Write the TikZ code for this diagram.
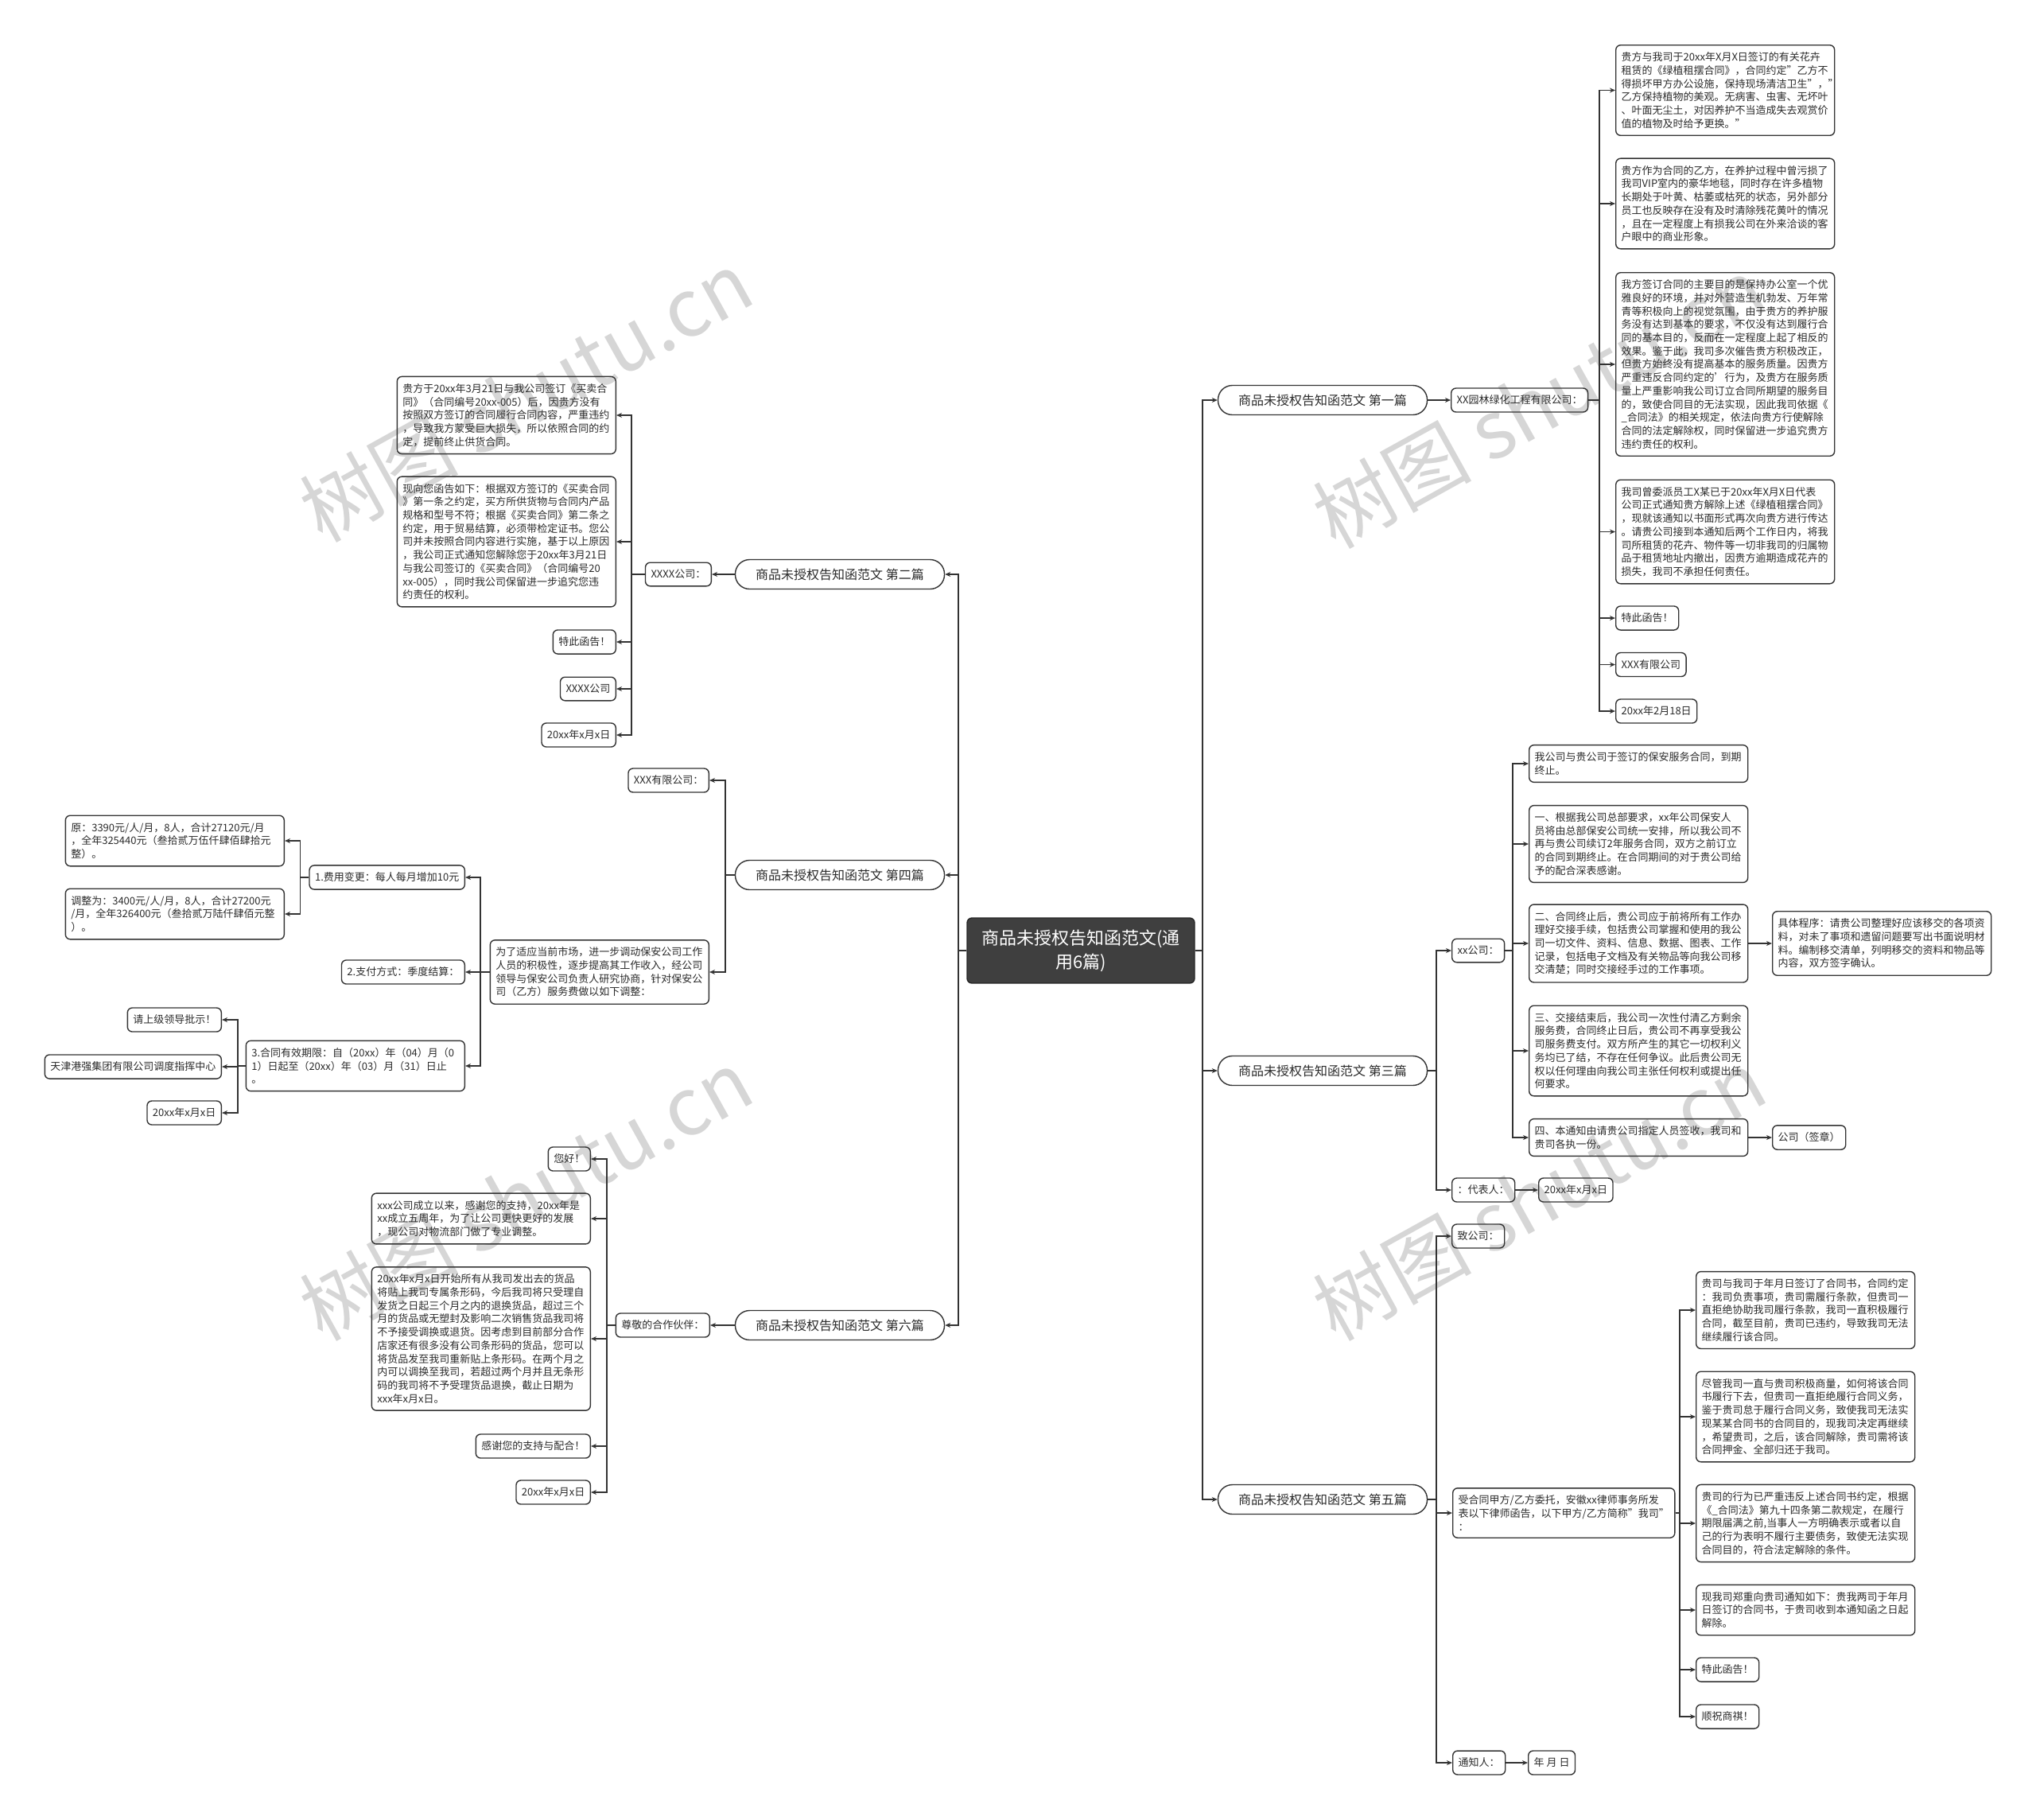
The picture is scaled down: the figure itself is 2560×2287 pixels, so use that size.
\documentclass[tikz,border=0pt]{standalone}
\usepackage{fontspec}
\setmainfont{Noto Sans CJK SC}
\usetikzlibrary{arrows.meta}
\definecolor{linec}{HTML}{333333}
\definecolor{textc}{HTML}{2B2B2B}
\definecolor{rootc}{HTML}{3F3F3F}
\definecolor{wmc}{HTML}{D6D6D6}
\begin{document}
\begin{tikzpicture}[x=1pt,y=-1pt,
  conn/.style={draw=linec, line width=1.4pt},
  arr/.style={conn, -{Stealth[length=7pt,width=6pt]}},
  tagbox/.style={draw=linec, line width=1.4pt, rounded corners=6pt, text=textc, align=left, inner xsep=7pt, inner ysep=9pt, font=\fontsize{13}{16.7}\selectfont},
  bigbox/.style={tagbox, text width=261pt},
  pillbox/.style={draw=linec, line width=1.4pt, rounded corners=18pt, minimum width=263pt, minimum height=37pt, inner sep=0pt, text=textc, font=\fontsize{16}{19}\selectfont},
  rootbox/.style={draw=black!85, fill=rootc, line width=1.4pt, rounded corners=6pt, minimum width=286pt, minimum height=82pt, text=white, align=center, font=\fontsize{22}{30}\selectfont},
  wm/.style={text=wmc, rotate=29, font=\fontsize{100}{100}\selectfont}
]
\useasboundingbox[fill=white] (0,0) rectangle (2560,2287);

% watermarks
\node[wm] (w1) at (661,498) {树图 shutu.cn};
\node[wm] (w2) at (661,1502) {树图 shutu.cn};
\node[wm] (w3) at (1935,506) {树图 shutu.cn};
\node[wm] (w4) at (1935,1502) {树图 shutu.cn};

% trunk coordinates
\coordinate (tR) at (1512,0);
\coordinate (tL) at (1205,0);
\coordinate (tA) at (2011,0);
\coordinate (tB) at (1806,0);
\coordinate (tC) at (1902,0);
\coordinate (tE) at (2112,0);
\coordinate (tF) at (794,0);
\coordinate (tG) at (912,0);
\coordinate (tH) at (604,0);
\coordinate (tI) at (377.5,0);
\coordinate (tJ) at (299,0);
\coordinate (tK) at (763,0);

% root and level 1
\node[rootbox] (root) at (1359,1195) {商品未授权告知函范文(通\\用6篇)};
\node[pillbox] (r1) at (1663,503) {商品未授权告知函范文 第一篇};
\node[pillbox] (r3) at (1663,1346) {商品未授权告知函范文 第三篇};
\node[pillbox] (r5) at (1663,1885) {商品未授权告知函范文 第五篇};
\node[pillbox] (l2) at (1056,722) {商品未授权告知函范文 第二篇};
\node[pillbox] (l4) at (1056,1100) {商品未授权告知函范文 第四篇};
\node[pillbox] (l6) at (1056,1666) {商品未授权告知函范文 第六篇};
\foreach \n in {r1,r3,r5} \draw[arr] (root.east) -- (root.east -| tR) |- (\n.west);
\foreach \n in {l2,l4,l6} \draw[arr] (root.west) -- (root.west -| tL) |- (\n.east);

% ===== 第一篇 =====
\node[tagbox, anchor=west] (a0) at (1824,503) {XX园林绿化工程有限公司：};
\draw[arr] (r1.east) -- (a0.west);
\node[bigbox, anchor=west] (a1) at (2031,113.5) {贵方与我司于20xx年X月X日签订的有关花卉\\租赁的《绿植租摆合同》，合同约定"乙方不\\得损坏甲方办公设施，保持现场清洁卫生"，"\\乙方保持植物的美观。无病害、虫害、无坏叶\\、叶面无尘土，对因养护不当造成失去观赏价\\值的植物及时给予更换。"};
\node[bigbox, anchor=west] (a2) at (2031,256) {贵方作为合同的乙方，在养护过程中曾污损了\\我司VIP室内的豪华地毯，同时存在许多植物\\长期处于叶黄、枯萎或枯死的状态，另外部分\\员工也反映存在没有及时清除残花黄叶的情况\\，且在一定程度上有损我公司在外来洽谈的客\\户眼中的商业形象。};
\node[bigbox, anchor=west] (a3) at (2031,458) {我方签订合同的主要目的是保持办公室一个优\\雅良好的环境，并对外营造生机勃发、万年常\\青等积极向上的视觉氛围，由于贵方的养护服\\务没有达到基本的要求，不仅没有达到履行合\\同的基本目的，反而在一定程度上起了相反的\\效果。鉴于此，我司多次催告贵方积极改正，\\但贵方始终没有提高基本的服务质量。因贵方\\严重违反合同约定的'行为，及贵方在服务质\\量上严重影响我公司订立合同所期望的服务目\\的，致使合同目的无法实现，因此我司依据《\\\_合同法》的相关规定，依法向贵方行使解除\\合同的法定解除权，同时保留进一步追究贵方\\违约责任的权利。};
\node[bigbox, anchor=west] (a4) at (2031,668.5) {我司曾委派员工X某已于20xx年X月X日代表\\公司正式通知贵方解除上述《绿植租摆合同》\\，现就该通知以书面形式再次向贵方进行传达\\。请贵公司接到本通知后两个工作日内，将我\\司所租赁的花卉、物件等一切非我司的归属物\\品于租赁地址内撤出，因贵方逾期造成花卉的\\损失，我司不承担任何责任。};
\node[tagbox, anchor=west] (a5) at (2031,777) {特此函告！};
\node[tagbox, anchor=west] (a6) at (2031,835.5) {XXX有限公司};
\node[tagbox, anchor=west] (a7) at (2031,894) {20xx年2月18日};
\foreach \n in {a1,a2,a3,a4,a5,a6,a7} \draw[arr] (a0.east) -- (a0.east -| tA) |- (\n.west);

% ===== 第三篇 =====
\node[tagbox, anchor=west] (b1) at (1825,1195) {xx公司：};
\node[tagbox, anchor=west] (b2) at (1825,1496) {：代表人：};
\node[tagbox, anchor=west] (b3) at (1934,1496) {20xx年x月x日};
\foreach \n in {b1,b2} \draw[arr] (r3.east) -- (r3.east -| tB) |- (\n.west);
\draw[arr] (b2.east) -- (b3.west);
\node[bigbox, anchor=west] (c1) at (1922,960) {我公司与贵公司于签订的保安服务合同，到期\\终止。};
\node[bigbox, anchor=west] (c2) at (1922,1061) {一、根据我公司总部要求，xx年公司保安人\\员将由总部保安公司统一安排，所以我公司不\\再与贵公司续订2年服务合同，双方之前订立\\的合同到期终止。在合同期间的对于贵公司给\\予的配合深表感谢。};
\node[bigbox, anchor=west] (c3) at (1922,1186) {二、合同终止后，贵公司应于前将所有工作办\\理好交接手续，包括贵公司掌握和使用的我公\\司一切文件、资料、信息、数据、图表、工作\\记录，包括电子文档及有关物品等向我公司移\\交清楚；同时交接经手过的工作事项。};
\node[bigbox, anchor=west] (c4) at (1922,1321) {三、交接结束后，我公司一次性付清乙方剩余\\服务费，合同终止日后，贵公司不再享受我公\\司服务费支付。双方所产生的其它一切权利义\\务均已了结，不存在任何争议。此后贵公司无\\权以任何理由向我公司主张任何权利或提出任\\何要求。};
\node[bigbox, anchor=west] (c5) at (1922,1430) {四、本通知由请贵公司指定人员签收，我司和\\贵司各执一份。};
\node[bigbox, anchor=west] (c6) at (2228,1186) {具体程序：请贵公司整理好应该移交的各项资\\料，对未了事项和遗留问题要写出书面说明材\\料。编制移交清单，列明移交的资料和物品等\\内容，双方签字确认。};
\node[tagbox, anchor=west] (c7) at (2228,1430) {公司（签章）};
\foreach \n in {c1,c2,c3,c4,c5} \draw[arr] (b1.east) -- (b1.east -| tC) |- (\n.west);
\draw[arr] (c3.east) -- (c6.west);
\draw[arr] (c5.east) -- (c7.west);

% ===== 第五篇 =====
\node[tagbox, anchor=west] (d1) at (1825,1554) {致公司：};
\node[tagbox, anchor=west] (d2) at (1826,1902) {受合同甲方/乙方委托，安徽xx律师事务所发\\表以下律师函告，以下甲方/乙方简称"我司"\\：};
\node[tagbox, anchor=west] (d3) at (1826,2216) {通知人：};
\node[tagbox, anchor=west] (d4) at (1921,2216) {年 月 日};
\foreach \n in {d1,d2,d3} \draw[arr] (r5.east) -- (r5.east -| tB) |- (\n.west);
\draw[arr] (d3.east) -- (d4.west);
\node[bigbox, anchor=west] (e1) at (2132,1647) {贵司与我司于年月日签订了合同书，合同约定\\：我司负责事项，贵司需履行条款，但贵司一\\直拒绝协助我司履行条款，我司一直积极履行\\合同，截至目前，贵司已违约，导致我司无法\\继续履行该合同。};
\node[bigbox, anchor=west] (e2) at (2132,1781) {尽管我司一直与贵司积极商量，如何将该合同\\书履行下去，但贵司一直拒绝履行合同义务，\\鉴于贵司怠于履行合同义务，致使我司无法实\\现某某合同书的合同目的，现我司决定再继续\\，希望贵司，之后，该合同解除，贵司需将该\\合同押金、全部归还于我司。};
\node[bigbox, anchor=west] (e3) at (2132,1915) {贵司的行为已严重违反上述合同书约定，根据\\《\_合同法》第九十四条第二款规定，在履行\\期限届满之前,当事人一方明确表示或者以自\\己的行为表明不履行主要债务，致使无法实现\\合同目的，符合法定解除的条件。};
\node[bigbox, anchor=west] (e4) at (2132,2024) {现我司郑重向贵司通知如下：贵我两司于年月\\日签订的合同书，于贵司收到本通知函之日起\\解除。};
\node[tagbox, anchor=west] (e5) at (2132,2099) {特此函告！};
\node[tagbox, anchor=west] (e6) at (2132,2158) {顺祝商祺！};
\foreach \n in {e1,e2,e3,e4,e5,e6} \draw[arr] (d2.east) -- (d2.east -| tE) |- (\n.west);

% ===== 第二篇 =====
\node[tagbox, anchor=east] (f0) at (895,722) {XXXX公司：};
\draw[arr] (l2.west) -- (f0.east);
\node[bigbox, anchor=east] (f1) at (775,522) {贵方于20xx年3月21日与我公司签订《买卖合\\同》（合同编号20xx-005）后，因贵方没有\\按照双方签订的合同履行合同内容，严重违约\\，导致我方蒙受巨大损失，所以依照合同的约\\定，提前终止供货合同。};
\node[bigbox, anchor=east] (f2) at (775,681) {现向您函告如下：根据双方签订的《买卖合同\\》第一条之约定，买方所供货物与合同内产品\\规格和型号不符；根据《买卖合同》第二条之\\约定，用于贸易结算，必须带检定证书。您公\\司并未按照合同内容进行实施，基于以上原因\\，我公司正式通知您解除您于20xx年3月21日\\与我公司签订的《买卖合同》（合同编号20\\xx-005），同时我公司保留进一步追究您违\\约责任的权利。};
\node[tagbox, anchor=east] (f3) at (775,807) {特此函告！};
\node[tagbox, anchor=east] (f4) at (775,866) {XXXX公司};
\node[tagbox, anchor=east] (f5) at (775,924) {20xx年x月x日};
\foreach \n in {f1,f2,f3,f4,f5} \draw[arr] (f0.west) -- (f0.west -| tF) |- (\n.east);

% ===== 第四篇 =====
\node[tagbox, anchor=east] (g1) at (892,981) {XXX有限公司：};
\node[bigbox, anchor=east] (g2) at (892,1222) {为了适应当前市场，进一步调动保安公司工作\\人员的积极性，逐步提高其工作收入，经公司\\领导与保安公司负责人研究协商，针对保安公\\司（乙方）服务费做以如下调整：};
\foreach \n in {g1,g2} \draw[arr] (l4.west) -- (l4.west -| tG) |- (\n.east);
\node[tagbox, anchor=east] (h1) at (585,1103) {1.费用变更：每人每月增加10元};
\node[tagbox, anchor=east] (h2) at (585,1222) {2.支付方式：季度结算：};
\node[bigbox, anchor=east] (h3) at (585,1340) {3.合同有效期限：自（20xx）年（04）月（0\\1）日起至（20xx）年（03）月（31）日止\\。};
\foreach \n in {h1,h2,h3} \draw[arr] (g2.west) -- (g2.west -| tH) |- (\n.east);
\node[bigbox, anchor=east] (i1) at (358,1057) {原：3390元/人/月，8人，合计27120元/月\\，全年325440元（叁拾贰万伍仟肆佰肆拾元\\整）。};
\node[bigbox, anchor=east] (i2) at (358,1149) {调整为：3400元/人/月，8人，合计27200元\\/月，全年326400元（叁拾贰万陆仟肆佰元整\\）。};
\foreach \n in {i1,i2} \draw[arr] (h1.west) -- (h1.west -| tI) |- (\n.east);
\node[tagbox, anchor=east] (j1) at (279,1282) {请上级领导批示！};
\node[tagbox, anchor=east] (j2) at (279,1341) {天津港强集团有限公司调度指挥中心};
\node[tagbox, anchor=east] (j3) at (279,1399) {20xx年x月x日};
\foreach \n in {j1,j2,j3} \draw[arr] (h3.west) -- (h3.west -| tJ) |- (\n.east);

% ===== 第六篇 =====
\node[tagbox, anchor=east] (k0) at (893,1666) {尊敬的合作伙伴：};
\draw[arr] (l6.west) -- (k0.east);
\node[tagbox, anchor=east] (k1) at (743,1457) {您好！};
\node[bigbox, anchor=east] (k2) at (743,1532) {xxx公司成立以来，感谢您的支持，20xx年是\\xx成立五周年，为了让公司更快更好的发展\\，现公司对物流部门做了专业调整。};
\node[bigbox, anchor=east] (k3) at (743,1683) {20xx年x月x日开始所有从我司发出去的货品\\将贴上我司专属条形码，今后我司将只受理自\\发货之日起三个月之内的退换货品，超过三个\\月的货品或无塑封及影响二次销售货品我司将\\不予接受调换或退货。因考虑到目前部分合作\\店家还有很多没有公司条形码的货品，您可以\\将货品发至我司重新贴上条形码。在两个月之\\内可以调换至我司，若超过两个月并且无条形\\码的我司将不予受理货品退换，截止日期为\\xxx年x月x日。};
\node[tagbox, anchor=east] (k4) at (743,1818) {感谢您的支持与配合！};
\node[tagbox, anchor=east] (k5) at (743,1876) {20xx年x月x日};
\foreach \n in {k1,k2,k3,k4,k5} \draw[arr] (k0.west) -- (k0.west -| tK) |- (\n.east);
\end{tikzpicture}
\end{document}
